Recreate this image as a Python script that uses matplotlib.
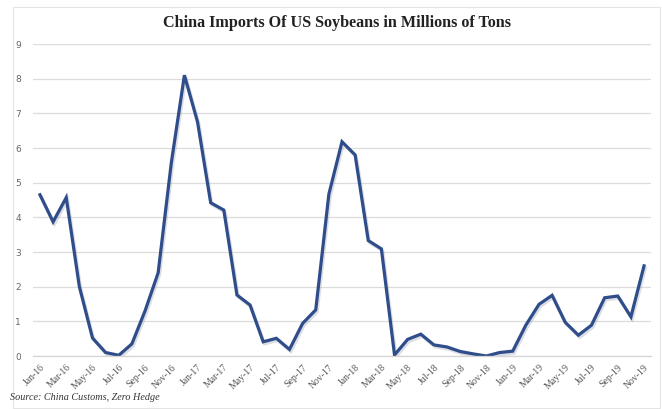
import matplotlib
matplotlib.use("Agg")
import matplotlib.pyplot as plt
import matplotlib.patheffects as pe
from matplotlib.patches import Rectangle

months = ["Jan-16", "Feb-16", "Mar-16", "Apr-16", "May-16", "Jun-16", "Jul-16", "Aug-16",
          "Sep-16", "Oct-16", "Nov-16", "Dec-16",
          "Jan-17", "Feb-17", "Mar-17", "Apr-17", "May-17", "Jun-17", "Jul-17", "Aug-17",
          "Sep-17", "Oct-17", "Nov-17", "Dec-17",
          "Jan-18", "Feb-18", "Mar-18", "Apr-18", "May-18", "Jun-18", "Jul-18", "Aug-18",
          "Sep-18", "Oct-18", "Nov-18", "Dec-18",
          "Jan-19", "Feb-19", "Mar-19", "Apr-19", "May-19", "Jun-19", "Jul-19", "Aug-19",
          "Sep-19", "Oct-19", "Nov-19"]
imports = [4.65, 3.87, 4.57, 2.0, 0.52, 0.1, 0.02, 0.35, 1.3, 2.4, 5.57, 8.1,
           6.75, 4.42, 4.21, 1.76, 1.47, 0.41, 0.51, 0.19, 0.94, 1.33, 4.67, 6.18,
           5.8, 3.33, 3.09, 0.03, 0.48, 0.63, 0.32, 0.26, 0.13, 0.06, 0.0, 0.1,
           0.14, 0.89, 1.49, 1.75, 0.97, 0.6, 0.89, 1.68, 1.73, 1.13, 2.6]
y_ticks = list(range(0, 10))

title = "China Imports Of US Soybeans in Millions of Tons"
source = "Source: China Customs, Zero Hedge"

W, H = 662, 409
fig = plt.figure(figsize=(W / 100, H / 100), dpi=100)
fig.patch.set_facecolor("white")

# faint outer border
fig.add_artist(Rectangle((13 / W, 1 - 408 / H), (660 - 13) / W, (408 - 7) / H,
                         transform=fig.transFigure, fill=False,
                         edgecolor="#e4e4e4", linewidth=0.8))

ax = fig.add_axes([33.4 / W, (H - 356) / H, (650.6 - 33.4) / W, (356 - 44) / H])
x = list(range(len(imports)))
ax.plot(x, imports, color="#2f4d8a", linewidth=2.3, solid_joinstyle="miter",
        path_effects=[pe.SimpleLineShadow(offset=(1.0, -1.5), shadow_color="#8a93a8", alpha=0.3),
                      pe.Normal()])

ax.set_xlim(-0.5, len(imports) - 0.5)
ax.set_ylim(0, 9)
ax.set_yticks(y_ticks)
ax.set_yticklabels([str(v) for v in y_ticks], fontsize=6.5, color="#666666",
                   family="DejaVu Sans")
ax.set_xticks(x[::2])
ax.set_xticklabels(months[::2], rotation=45, ha="right", rotation_mode="anchor",
                   fontsize=7, color="#555555", family="Liberation Serif")
ax.tick_params(axis="both", length=0)
ax.tick_params(axis="y", pad=9)
ax.tick_params(axis="x", pad=5)
ax.grid(axis="y", color="#dcdcdc", linewidth=0.9)
ax.set_axisbelow(True)
for s in ["top", "right", "left"]:
    ax.spines[s].set_visible(False)
ax.spines["bottom"].set_color("#d4d4d4")
ax.spines["bottom"].set_linewidth(0.9)
ax.set_facecolor("white")

fig.text(337 / W, 1 - 23 / H, title, ha="center", va="center", fontsize=11.6,
         fontweight="bold", family="Liberation Serif", color="#222222")
fig.text(10 / W, 1 - 397 / H, source, ha="left", va="center", fontsize=7.3,
         style="italic", family="Liberation Serif", color="#333333")

fig.savefig("out.png", dpi=100, facecolor="white")
